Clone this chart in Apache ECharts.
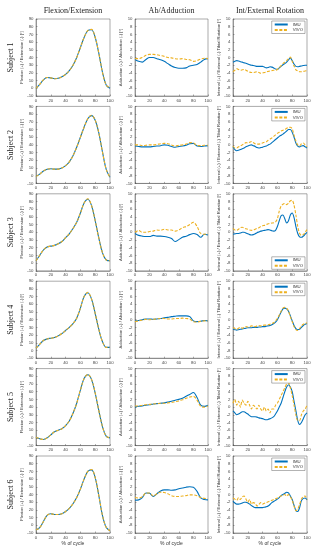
<!DOCTYPE html>
<html><head><meta charset="utf-8">
<script src="https://cdn.jsdelivr.net/npm/echarts@6/dist/echarts.min.js"></script>
<style>html,body{margin:0;padding:0;background:#fff}#c{width:315px;height:550px}</style>
</head><body><div id="c"></div>
<script>
// ---------- DATA ----------
const subjects = ['Subject 1','Subject 2','Subject 3','Subject 4','Subject 5','Subject 6'];
const colTitles = ['Flexion/Extension','Ab/Adduction','Int/External Rotation'];
const yNames = ['Flexion (+) / Extension (-) [°]','Adduction (+) / Abduction (-) [°]','Internal (+) / External (-) Tibial Rotation [°]'];
const seriesNames = ['IMU','VIVO'];
const xTicks = [0,20,40,60,80,100];
const flexTicks = [-10,0,10,20,30,40,50,60,70,80,90];
const rotTicks = [-10,-8,-6,-4,-2,0,2,4,6,8,10];
const xLabel = '% of cycle';

const pct = [0,5,10,15,20,25,30,35,40,45,50,55,60,65,70,75,80,85,90,95,100];
const pctFine = [0,2.5,5,7.5,10,12.5,15,17.5,20,22.5,25,27.5,30,32.5,35,37.5,40,42.5,45,47.5,50,52.5,55,57.5,60,62.5,65,67.5,70,72.5,75,77.5,80,82.5,85,87.5,90,92.5,95,97.5,100];

// Flexion/Extension (pct)
const flexIMU1 = [0,5,11,14,13.5,12.5,13,15,18,23,30,40,53,66,75,76,66,45,20,4,0];
const flexVIVO1 = [0,5,11,14,13.5,12.5,13,15,18,23,30,40,53,66,75,76.5,66,45,20,4,0.5];
const flexIMU2 = [-1,2,6,8.5,9,8.5,8.5,10,13,18,26,37,50,63,74,78,72,55,30,8,-2];
const flexVIVO2 = [-1,2,6,8.5,9,8.5,8.5,10,13,18,26,37,50,63,74,78.5,72,55,30,8,-2];
const flexIMU3 = [3,10,17,21,22,23,25,28,33,38,45,53,65,78,83,75,55,32,13,4,3];
const flexVIVO3 = [3,10,17,21,22,23,25,28,33,38,45,53,65,78,83.5,75,55,32,13,4,3];
const flexIMU4 = [3,8,13,15,16,17,19,22,26,30,35,42,55,70,75,67,48,27,11,4,4];
const flexVIVO4 = [3,8,13,15,16,17,19,22,26,30,35,42,55,70,75.5,67,48,27,11,4,4];
const flexIMU5 = [1,-1,-2,0,4,8,10,12,16,22,32,45,62,77,82,76,58,35,14,2,0];
const flexVIVO5 = [1,-1,-2,0,4,8,10,12,16,22,32,45,62,77,82.5,76,58,35,14,2,0];
const flexIMU6 = [-6,-3,5,13,15,14,14,15,18,22,28,36,47,60,70,72,62,38,12,-3,-7];
const flexVIVO6 = [-6,-3,5,13,15,14,14,15,18,22,28,36,47,60,70,72.5,62,38,12,-3,-7];

// Ab/Adduction (pct)
const abIMU1 = [-0.5,-1,-1.2,-0.5,0,0,-0.3,-0.6,-1,-1.6,-2.2,-2.6,-2.8,-2.8,-2.7,-2.2,-2.0,-1.8,-1.2,-0.5,-0.3];
const abVIVO1 = [-0.3,-0.3,0,0.6,0.8,0.8,0.7,0.5,0.3,0,-0.1,-0.3,-0.4,-0.3,-0.5,-0.6,-1.0,-0.8,-0.4,-0.2,-0.3];
const abIMU2 = [-0.3,-0.4,-0.5,-0.5,-0.5,-0.4,-0.3,-0.2,0,-0.1,-0.4,-0.6,-0.4,-0.3,-0.1,0.3,0.4,-0.3,-0.4,-0.3,-0.2];
const abVIVO2 = [0,0,-0.2,-0.1,0,0,0.1,0.3,0.4,0.3,0,-0.3,-0.1,0,0.2,0.6,0.5,-0.1,-0.2,-0.1,-0.1];
const abIMU3 = [-0.3,-0.8,-1,-1.1,-1.1,-0.8,-1,-1,-1.1,-1.3,-1.6,-2.4,-1.9,-1.3,-1,-0.6,-0.3,-0.6,-1.3,-0.5,-0.7];
const abVIVO3 = [0,0.5,0,0,0.2,0.3,0.6,0.5,0.8,0.6,0.6,0.3,0.6,1.2,1.5,2,2.6,1.5,-0.3,-0.5,-0.4];
const abIMU4 = [-0.3,-0.2,0,0.2,0.2,0.1,0.2,0.3,0.5,0.6,0.8,0.9,1,1,1,0.8,-0.3,-0.5,-0.4,-0.2,-0.3];
const abVIVO4 = [-0.5,-0.3,-0.1,0.1,0,0.1,0.2,0.3,0.3,0.2,0.2,0.3,0.3,0.4,0.3,0.2,-0.5,-0.6,-0.4,-0.3,-0.3];
const abIMU5 = [0,0.2,0.3,0.5,0.6,0.8,0.9,1,1.1,1.3,1.5,1.8,2,2.3,2.8,3.3,3.8,2.5,0.5,0.2,0.5];
const abVIVO5 = [0.3,0.3,0.5,0.6,0.7,0.8,0.9,1,1,1.1,1.2,1.4,1.6,1.9,2.3,2.6,2.8,1.8,0.2,0,0.3];
const abIMU6 = [-1.5,-1.4,-0.8,0.4,0.3,-0.5,0.2,0.9,1.2,1.2,1.1,1.2,1.5,1.7,1.9,2,1.9,0.8,-0.9,-1.3,-1.4];
const abVIVO6 = [-0.8,-0.9,-0.6,0.4,0.4,-0.4,0.2,0.6,0.5,0.2,-0.3,-0.5,-0.5,-0.4,-0.3,-0.1,-0.1,-0.3,-0.8,-1,-1.1];

// Int/External Rotation (pctFine)
const rotIMU1 = [-1.2,-1,-0.8,-0.9,-1.1,-1.2,-1.4,-1.5,-1.7,-1.9,-2,-2.1,-2.2,-2.3,-2.3,-2.3,-2.3,-2.5,-2.7,-2.6,-2.4,-2.5,-2.7,-3,-3.1,-2.7,-2.3,-1.9,-1.6,-1.2,-0.6,-0.1,-0.8,-1.7,-2.3,-2.4,-2.3,-2.2,-2.1,-2,-2];
const rotVIVO1 = [-3.7,-3.3,-2.9,-3.1,-3.3,-3.2,-3.1,-3.3,-3.6,-3.8,-3.9,-3.9,-3.8,-3.7,-3.9,-4.1,-4,-3.9,-3.7,-3.6,-3.5,-3.4,-3.3,-3.3,-3.1,-2.6,-2.1,-1.6,-1.2,-0.8,-0.3,0.1,-1,-2.2,-3.2,-3.5,-3.7,-3.7,-3.6,-3.5,-3.4];
const rotIMU2 = [-0.5,-1.2,-1.5,-1.4,-1.2,-1,-0.8,-0.5,-0.3,-0.1,0,-0.2,-0.4,-0.7,-0.8,-0.7,-0.6,-0.4,-0.3,0,0.2,0.6,1,1.4,1.8,2.2,2.5,2.8,3.2,3.6,4,4,3.3,2,0.5,-0.3,-0.5,-0.3,-0.2,-0.5,-0.8];
const rotVIVO2 = [-0.3,-0.8,-0.8,-0.5,-0.3,0,0.3,0.6,0.5,0.7,0.9,0.6,0.3,0.2,0.2,0.4,0.5,0.7,0.8,1.2,1.5,1.8,2.2,2.6,3,3.3,3.6,3.8,4,4.3,4.5,4.6,4.2,2.5,1,0,-0.3,0.3,0.5,0,-0.5];
const rotIMU3 = [-0.5,-0.4,-0.3,-0.3,-0.2,0,0,-0.2,-0.4,-0.6,-0.7,-0.6,-0.4,-0.1,0.1,0.3,0.4,0.5,0.6,0.7,0.6,0.4,0.3,0.5,1.5,3,4.3,4.5,3.5,2.4,3,4.5,5,3.8,1.5,-0.3,-1.2,-1.3,-1,-0.5,0];
const rotVIVO3 = [1,0.6,0.5,0.8,1.2,1.3,1.1,0.9,0.8,0.6,0.5,0.6,0.8,1,1.2,1.5,1.7,1.8,2,2.2,2.3,2.4,2.5,2.7,3.5,5.5,6.8,7.3,7.5,7.2,7.6,8.2,8.3,7,4.5,1.5,-0.3,-0.8,-0.6,0,0.7];
const rotIMU4 = [-2.5,-2.6,-2.7,-2.6,-2.5,-2.4,-2.3,-2.2,-2.1,-2.1,-2.1,-2,-2,-2,-1.9,-1.9,-1.8,-1.8,-1.7,-1.6,-1.5,-1.3,-1,-0.6,0,1,2,2.8,3,2.8,2.2,1,-0.3,-1.5,-2.3,-2.6,-2.5,-2,-1.5,-1.2,-1];
const rotVIVO4 = [-2,-2.3,-2.5,-2.2,-2,-2.2,-2,-1.8,-1.9,-1.8,-1.6,-1.7,-1.8,-1.6,-1.5,-1.6,-1.5,-1.4,-1.4,-1.3,-1.2,-1,-0.8,-0.3,0.3,1.2,2.2,3,3.2,3,2.2,0.8,-0.5,-1.8,-2.6,-2.8,-2.3,-1.6,-1.2,-1,-0.8];
const rotIMU5 = [-1,-1.5,-2,-1.8,-1.5,-1.2,-1.2,-1.5,-1.8,-2.2,-2.5,-2.5,-2.5,-2.6,-2.8,-2.9,-3,-3.2,-3.3,-3.2,-3,-2.8,-2.5,-1.8,-1,0,1,2.5,4,5.2,5.8,5.2,4,1.5,-1,-3.5,-4.5,-4,-3,-2,-1.5];
const rotVIVO5 = [1,2,0.5,1.5,0,1.8,1,0.5,1.5,0.5,-0.5,0.5,0,-0.5,0.5,-0.5,-1,0,-1,-0.5,-1.5,-0.5,-0.5,0.5,1,2,3,4,5,6,6.3,5,3,0.5,-2,-3.5,-3.5,-2,-1,-0.5,0.5];
const rotIMU6 = [-1.7,-2.2,-2.5,-2.5,-2.4,-2.2,-2,-2,-2.2,-2.5,-2.9,-3.2,-3.4,-3.4,-3.4,-3.4,-3.4,-3.3,-3.2,-3,-2.6,-2.1,-1.8,-1.5,-1.2,-0.8,-0.3,0,0.3,0.6,0.4,-0.4,-1.3,-2.8,-4.2,-4.4,-3.4,-1.6,-1,-0.9,-1.4];
const rotVIVO6 = [-0.9,-1.2,-1.5,-0.8,-1.3,-0.6,-0.4,-1.2,-2,-1.3,-2.5,-2.1,-2.3,-3,-2.6,-2.1,-2.5,-2.3,-2.1,-1.9,-1.7,-1.5,-1.3,-1.1,-0.9,-0.6,-0.4,-0.2,0,-0.4,0,-0.6,-1.5,-3,-4.2,-3.8,-2.6,-1.2,-0.5,-0.4,-1.3];

const panels = [
  [[flexIMU1,flexVIVO1],[abIMU1,abVIVO1],[rotIMU1,rotVIVO1]],
  [[flexIMU2,flexVIVO2],[abIMU2,abVIVO2],[rotIMU2,rotVIVO2]],
  [[flexIMU3,flexVIVO3],[abIMU3,abVIVO3],[rotIMU3,rotVIVO3]],
  [[flexIMU4,flexVIVO4],[abIMU4,abVIVO4],[rotIMU4,rotVIVO4]],
  [[flexIMU5,flexVIVO5],[abIMU5,abVIVO5],[rotIMU5,rotVIVO5]],
  [[flexIMU6,flexVIVO6],[abIMU6,abVIVO6],[rotIMU6,rotVIVO6]]
];

// ---------- LAYOUT / STYLE ----------
const colLeft = [36,135,233], colW = [74,73,74];
const rowTop0 = 19, rowStep = 87.4, rowH = 77;
const blue = '#0072BD', orange = '#EDB120';
const serif = '"Liberation Serif", "Times New Roman", serif';
const sans = '"Liberation Sans", Arial, sans-serif';

const grid = [], xAxis = [], yAxis = [], series = [], legend = [], graphic = [];
let gi = 0;
for (let r = 0; r < 6; r++) {
  const top = rowTop0 + r*rowStep;
  for (let c = 0; c < 3; c++) {
    grid.push({left: colLeft[c], top: top, width: colW[c], height: rowH,
      show: true, borderColor: '#555', borderWidth: 0.5, backgroundColor: '#fff'});
    xAxis.push({type:'value', gridIndex: gi, min: xTicks[0], max: xTicks[xTicks.length-1],
      interval: xTicks[1]-xTicks[0],
      name: r === 5 ? xLabel : '', nameLocation:'middle', nameGap: 8,
      nameTextStyle:{fontSize:5, color:'#333', fontFamily: sans},
      axisLine:{onZero:false, lineStyle:{color:'#555', width:0.5}},
      axisTick:{inside:true, length:1.5, lineStyle:{color:'#555', width:0.5}},
      axisLabel:{fontSize:4.3, color:'#444', margin:2.5, fontFamily: sans},
      splitLine:{show:false}});
    const ticks = c === 0 ? flexTicks : rotTicks;
    yAxis.push({type:'value', gridIndex: gi, min: ticks[0], max: ticks[ticks.length-1],
      interval: ticks[1]-ticks[0],
      name: yNames[c], nameLocation:'middle', nameGap: c===0 ? 9 : 8,
      nameTextStyle:{fontSize:4.2, color:'#333', fontFamily: sans},
      axisLine:{show:true, onZero:false, lineStyle:{color:'#555', width:0.5}},
      axisTick:{show:true, inside:true, length:1.5, lineStyle:{color:'#555', width:0.5}},
      axisLabel:{fontSize:4.3, color:'#444', margin:2.5, fontFamily: sans},
      splitLine:{show:false}});
    const xs = c === 2 ? pctFine : pct;
    const pair = panels[r][c];
    for (let k = 0; k < 2; k++) {
      series.push({name: seriesNames[k], type:'line', xAxisIndex: gi, yAxisIndex: gi,
        data: xs.map((x,i)=>[x, pair[k][i]]),
        showSymbol:false, symbol:'none', smooth: c===2 ? 0.25 : 0.35,
        lineStyle:{color: k===0 ? blue : orange, width: 1.1, type: k===0 ? 'solid' : [3,1.6]},
        itemStyle:{color: k===0 ? blue : orange},
        silent:true, animation:false, z: 2+k});
    }
    gi++;
  }
  // legend in third column
  const lg = {orient:'vertical', data: seriesNames, right: 315 - (colLeft[2]+colW[2]) + 2,
    itemWidth: 13, itemHeight: 4, itemGap: 1.5,
    itemStyle:{opacity:0},
    textStyle:{fontSize:4.3, color:'#333', fontFamily: sans},
    padding:[1.5,2,1.5,2], borderColor:'#666', borderWidth:0.5, backgroundColor:'#fff', selectedMode:false};
  if (r === 2) lg.top = top + rowH - 14; else lg.top = top + 2;
  legend.push(lg);
  // row label
  graphic.push({type:'text', x: 11, y: top + rowH/2, rotation: Math.PI/2,
    style:{text: subjects[r], font: '8px ' + serif, fill:'#222', align:'center', verticalAlign:'middle'}});
}
for (let c = 0; c < 3; c++) {
  graphic.push({type:'text', x: colLeft[c] + colW[c]/2, y: 11,
    style:{text: colTitles[c], font: '8px ' + serif, fill:'#222', align:'center', verticalAlign:'middle'}});
}

const chart = echarts.init(document.getElementById('c'), null, {renderer:'canvas'});
chart.setOption({animation:false, backgroundColor:'#fff', grid, xAxis, yAxis, series, legend, graphic});
</script></body></html>
